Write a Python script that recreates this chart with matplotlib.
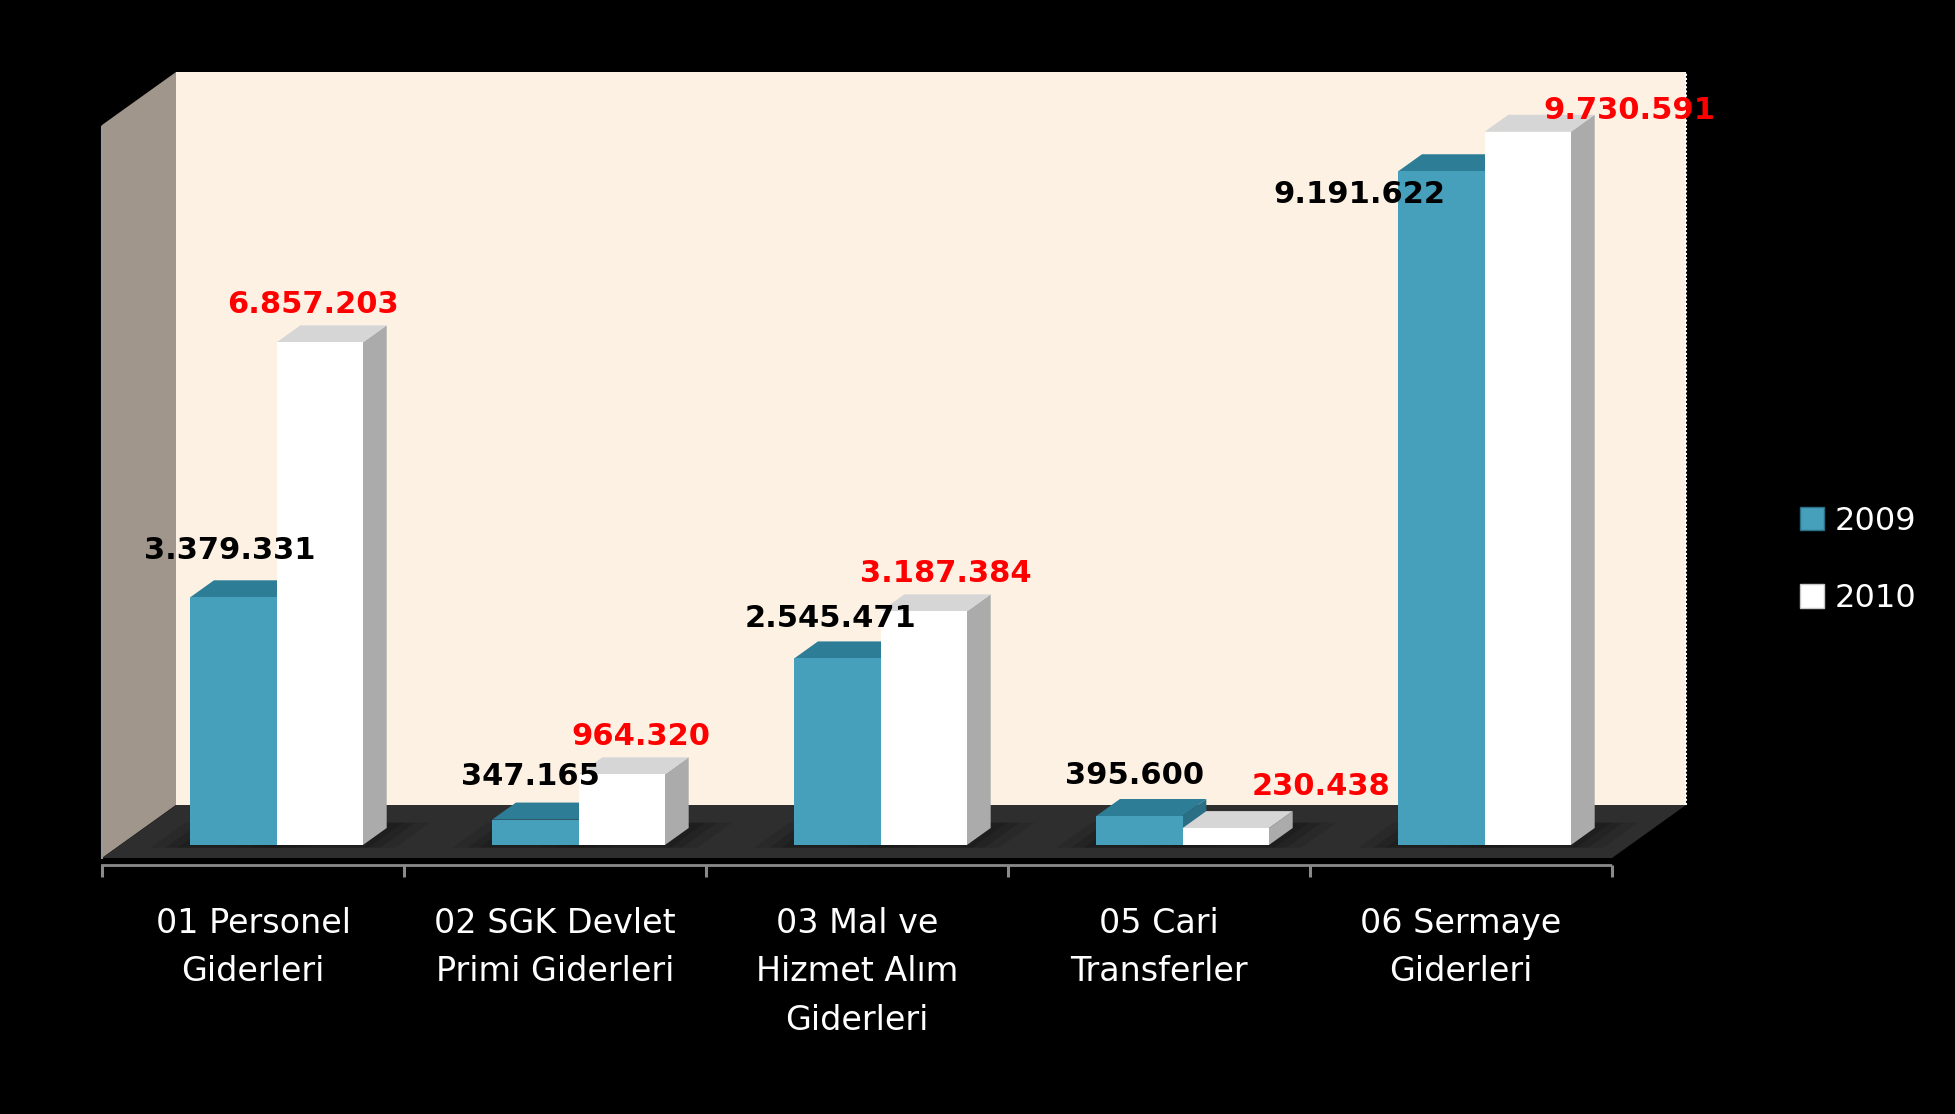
import matplotlib
matplotlib.use("Agg")
import matplotlib.pyplot as plt
from matplotlib.patches import Polygon, Patch

# ---------------- data ----------------
categories = ["01 Personel\nGiderleri", "02 SGK Devlet\nPrimi Giderleri",
              "03 Mal ve\nHizmet Alım\nGiderleri", "05 Cari\nTransferler",
              "06 Sermaye\nGiderleri"]
series_names = ["2009", "2010"]
values_2009 = [3379331, 347165, 2545471, 395600, 9191622]
values_2010 = [6857203, 964320, 3187384, 230438, 9730591]
labels_2009 = ["3.379.331", "347.165", "2.545.471", "395.600", "9.191.622"]
labels_2010 = ["6.857.203", "964.320", "3.187.384", "230.438", "9.730.591"]

# ---------------- style / layout ----------------
W, H = 1955, 1114
TEAL_FRONT = "#46a0bc"
TEAL_TOP = "#2d7d96"
TEAL_SIDE = "#2a6f86"
WHITE_FRONT = "#ffffff"
WHITE_TOP = "#d6d6d6"
WHITE_SIDE = "#ababab"
BACK_WALL = "#fdf1e4"
SIDE_WALL = "#a0968c"
FLOOR = "#2e2e2e"

# label offsets in pixels (dx, dy up) relative to bar top-face centre
off_2009 = [(-16, 30), (-17, 26), (-19, 23), (-17, 24), (-94, -40)]
off_2010 = [(-19, 21), (7, 21), (10, 21), (83, 25), (90, 4)]

fig = plt.figure(figsize=(W / 100, H / 100), dpi=100, facecolor="black")
ax = fig.add_axes([102 / W, (H - 858) / H, 1510 / W, 733 / H])
ax.set_facecolor("none")
ax.set_xlim(-0.5, 4.5)
ax.set_ylim(0, 1e7)

# oblique depth vector in data units
DX = 74 / 302.0
DY = 53 / 733.0 * 1e7


def P(x, v, z):
    return (x + z * DX, v + z * DY)


def poly(pts, color, z, ec="none", alpha=1.0):
    ax.add_patch(Polygon(pts, closed=True, facecolor=color, edgecolor=ec,
                         lw=0.6, zorder=z, clip_on=False, alpha=alpha))


x0, x1 = -0.5, 4.5
vmax = 1e7
# back wall
poly([P(x0, 0, 1), P(x1, 0, 1), P(x1, vmax, 1), P(x0, vmax, 1)], BACK_WALL, 1)
# side wall
poly([P(x0, 0, 0), P(x0, 0, 1), P(x0, vmax, 1), P(x0, vmax, 0)], SIDE_WALL, 1)
# floor
poly([P(x0, 0, 0), P(x1, 0, 0), P(x1, 0, 1), P(x0, 0, 1)], FLOOR, 2)
# dotted right edge of back wall
rx = [P(x1, 0, 1)[0], P(x1, vmax, 1)[0]]
ry = [P(x1, 0, 1)[1], P(x1, vmax, 1)[1]]
ax.plot(rx, ry, color="white", lw=1.5, ls=(0, (1, 1)), zorder=3, clip_on=False)

bw = 0.286
z0, z1 = 0.245, 0.566
zmid = (z0 + z1) / 2


def bar3d(xl, xr, h, front, top, side, z):
    # soft floor shadow
    for k, a in [(0.12, 0.18), (0.07, 0.25), (0.03, 0.3)]:
        poly([P(xl - k, 0, z0 - 0.05), P(xr + k, 0, z0 - 0.05),
              P(xr + k, 0, z1 + 0.1), P(xl - k, 0, z1 + 0.1)], "#151515", 3, alpha=a)
    poly([P(xr, 0, z0), P(xr, 0, z1), P(xr, h, z1), P(xr, h, z0)], side, z)
    poly([P(xl, h, z0), P(xr, h, z0), P(xr, h, z1), P(xl, h, z1)], top, z)
    poly([P(xl, 0, z0), P(xr, 0, z0), P(xr, h, z0), P(xl, h, z0)], front, z)


for i in range(len(categories)):
    left = i - 0.268
    bar3d(left, left + bw, values_2009[i], TEAL_FRONT, TEAL_TOP, TEAL_SIDE, 5 + 2 * i)
    bar3d(left + bw, left + 2 * bw, values_2010[i], WHITE_FRONT, WHITE_TOP, WHITE_SIDE, 6 + 2 * i)

    xy9 = P(left + bw / 2, values_2009[i], zmid)
    ax.annotate(labels_2009[i], xy=xy9, xytext=off_2009[i], textcoords="offset pixels",
                ha="center", va="baseline", fontsize=22, fontweight="bold",
                color="black", zorder=30, annotation_clip=False)
    xy10 = P(left + 1.5 * bw, values_2010[i], zmid)
    ax.annotate(labels_2010[i], xy=xy10, xytext=off_2010[i], textcoords="offset pixels",
                ha="center", va="baseline", fontsize=22, fontweight="bold",
                color="#ff0000", zorder=30, annotation_clip=False)

# axes styling
for s in ["top", "right"]:
    ax.spines[s].set_visible(False)
ax.spines["left"].set_color("#9a9a9a")
ax.spines["left"].set_linestyle((0, (1, 1)))
ax.spines["left"].set_linewidth(1.5)
ax.spines["left"].set_zorder(4)
ax.spines["bottom"].set_position(("outward", 5))
ax.spines["bottom"].set_color("#8a8a8a")
ax.spines["bottom"].set_linestyle((0, (1, 1)))
ax.spines["bottom"].set_linewidth(2)
ax.set_yticks([])
ax.set_xticks(range(len(categories)))
ax.set_xticklabels(categories, color="white", fontsize=24, linespacing=1.6)
ax.set_xticks([i - 0.5 for i in range(len(categories) + 1)], minor=True)
ax.tick_params(axis="x", which="major", length=0, pad=30)
ax.tick_params(axis="x", which="minor", length=8.5, width=2.2, color="#8a8a8a")

handles = [Patch(facecolor=TEAL_FRONT, edgecolor=TEAL_SIDE),
           Patch(facecolor="white", edgecolor="#c8c8c8")]
fig.legend(handles, series_names, loc="center left",
           bbox_to_anchor=(1771 / W, 1 - 560 / H), frameon=False, fontsize=23,
           labelcolor="white", handlelength=0.75, handleheight=0.75,
           handletextpad=0.35, labelspacing=1.46)

fig.savefig("out.png", dpi=100, facecolor="black")
